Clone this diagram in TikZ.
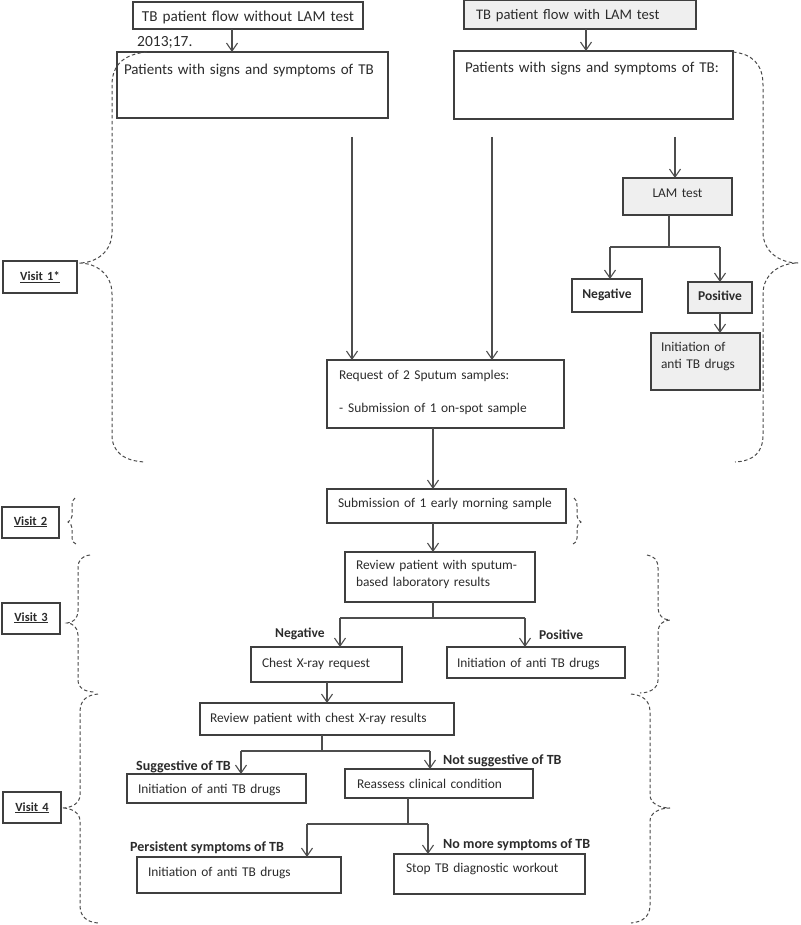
\documentclass[tikz,border=0pt]{standalone}
\usepackage{fontspec}
\setmainfont{Carlito}
\usetikzlibrary{arrows.meta}
\definecolor{lncol}{HTML}{4D4D4D}
\definecolor{bdcol}{HTML}{3F3F3F}
\definecolor{gfcol}{HTML}{EFEFEF}
\definecolor{txcol}{HTML}{2B2B2B}
\definecolor{brcol}{HTML}{4A4A4A}
\newcommand\mybox[9]{%
 \pgfmathsetmacro\mytw{#4-2*#6}%
 \pgfmathsetmacro\mytd{#5-#7}%
 \node[bx,#8,anchor=north west,inner sep=0pt,inner xsep=#6pt,text width=\mytw pt,text height=#7pt,text depth=\mytd pt] (#1) at (#2,#3) {#9};}
\tikzset{
 bx/.style={draw=bdcol, line width=1.1pt, text=txcol, font=\fontsize{13.4}{17}\selectfont, align=left, outer sep=0pt},
 grayfill/.style={fill=gfcol},
 bigtxt/.style={font=\fontsize{15}{18}\selectfont},
 ctr/.style={align=center},
 bldtxt/.style={font=\bfseries\fontsize{13.5}{16}\selectfont},
 vis/.style={font=\bfseries\fontsize{12.5}{15}\selectfont, align=center},
 lab/.style={text=txcol, font=\bfseries\fontsize{13.5}{16}\selectfont, inner sep=0pt, anchor=base west},
 labb/.style={lab, font=\bfseries\fontsize{14}{16}\selectfont},
 cline/.style={draw=lncol, line width=1.1pt},
 arr/.style={cline, -{Straight Barb[length=8pt,width=11pt,line width=1.1pt]}},
 brace/.style={draw=brcol, line width=1pt, dash pattern=on 3.5pt off 2.5pt},
}
\begin{document}
\begin{tikzpicture}[x=1pt,y=-1pt]
\useasboundingbox (0,0) rectangle (800,925);
% top boxes
\mybox{B1}{133}{2}{230}{27}{8}{19.5}{font=\fontsize{15.2}{18}\selectfont,ctr}{\mbox{TB patient flow without LAM test}}
\mybox{B3}{464}{0}{232}{29}{12}{20}{font=\fontsize{14.6}{18}\selectfont,grayfill}{\mbox{TB patient flow with LAM test}}
\node[text=txcol, font=\fontsize{15.5}{18}\selectfont, inner sep=0pt, anchor=base west] (ref) at (137,46.5) {2013;17.};
\mybox{B2}{117}{52}{271}{66}{7}{23}{bigtxt}{\mbox{Patients with signs and symptoms of TB}}
\mybox{B4}{454}{51}{279}{68}{11}{22}{bigtxt}{\mbox{Patients with signs and symptoms of TB:}}
% LAM branch
\mybox{LAM}{623}{178}{109}{37}{4}{19.5}{grayfill,ctr}{LAM test}
\mybox{Neg}{572}{279}{70}{33}{3}{19.5}{ctr,bldtxt}{Negative}
\mybox{Pos}{688}{282}{64}{31}{3}{18.5}{ctr,bldtxt,grayfill}{Positive}
\mybox{ILAM}{651}{333}{109}{57}{10}{18.5}{grayfill}{\mbox{Initiation of}\\\mbox{anti TB drugs}}
% sputum
\mybox{Req}{327}{360}{237}{68}{12}{19.5}{}{\mbox{Request of 2 Sputum samples:}\\[16pt]\mbox{-\hspace{5pt}Submission of 1 on-spot sample}}
\mybox{Sub}{327}{489}{239}{34}{11}{18.5}{}{\mbox{Submission of 1 early morning sample}}
\mybox{RS}{345}{552}{190}{50}{11}{17.5}{}{\mbox{Review patient with sputum-}\\\mbox{based laboratory results}}
\mybox{CX}{251}{647}{151}{35}{11}{20.5}{}{\mbox{Chest X-ray request}}
\mybox{IV3}{447}{647}{178}{31}{10}{20.5}{}{\mbox{Initiation of anti TB drugs}}
\mybox{RC}{200}{703}{254}{32}{10}{19.5}{}{\mbox{Review patient with chest X-ray results}}
\mybox{IV4a}{127}{774}{179}{29}{11}{19.5}{}{\mbox{Initiation of anti TB drugs}}
\mybox{RA}{345}{769}{188}{29}{12}{19.5}{}{\mbox{Reassess clinical condition}}
\mybox{IV4b}{137}{857}{204}{36}{11}{19.5}{}{\mbox{Initiation of anti TB drugs}}
\mybox{Stop}{394}{854}{191}{40}{12}{18.5}{}{\mbox{Stop TB diagnostic workout}}
% visit boxes
\mybox{V1}{3}{261}{74}{32}{3}{19.5}{vis}{\underline{Visit 1*}}
\mybox{V2}{2}{507}{57}{31}{3}{18}{vis}{\underline{Visit 2}}
\mybox{V3}{2}{603}{58}{31}{3}{18}{vis}{\underline{Visit 3}}
\mybox{V4}{3}{792}{58}{31}{3}{19}{vis}{\underline{Visit 4}}
% branch labels
\node[lab] (lneg) at (275,637.5) {Negative};
\node[lab] (lpos) at (539,639.5) {Positive};
\node[labb] (lsug) at (136,770.5) {Suggestive of TB};
\node[labb] (lnsug) at (443,764.5) {Not suggestive of TB};
\node[labb] (lper) at (130,851.5) {Persistent symptoms of TB};
\node[labb] (lnom) at (443,848.5) {No more symptoms of TB};
% connectors
\draw[arr] ([xshift=-16pt]B1.south) -- ([xshift=-16pt]B1.south |- B2.north);
\draw[arr] ([xshift=6pt]B3.south) -- ([xshift=6pt]B3.south |- B4.north);
\coordinate (s1) at (352,137);
\coordinate (s2) at (492,137);
\coordinate (s3) at (675,137);
\draw[arr] (s1) -- (s1 |- Req.north);
\draw[arr] (s2) -- (s2 |- Req.north);
\draw[arr] (s3) -- (s3 |- LAM.north);
\coordinate (j1) at (669,247);
\coordinate (j1l) at (610,247);
\coordinate (j1r) at (720,247);
\draw[cline] (j1 |- LAM.south) -- (j1);
\draw[cline] (j1l) -- (j1r);
\draw[arr] (j1l) -- (j1l |- Neg.north);
\draw[arr] (j1r) -- (j1r |- Pos.north);
\draw[arr] (Pos.south) -- (Pos.south |- ILAM.north);
\coordinate (c1) at (433,0);
\draw[arr] (Req.south -| c1) -- (Sub.north -| c1);
\draw[arr] (Sub.south -| c1) -- (RS.north -| c1);
\coordinate (j2) at (433,618);
\coordinate (j2l) at (340,618);
\coordinate (j2r) at (525,618);
\draw[cline] (RS.south -| j2) -- (j2);
\draw[cline] (j2l) -- (j2r);
\draw[arr] (j2l) -- (j2l |- CX.north);
\draw[arr] (j2r) -- (j2r |- IV3.north);
\coordinate (c2) at (327,0);
\draw[arr] (CX.south -| c2) -- (RC.north -| c2);
\coordinate (j3) at (322,751);
\coordinate (j3l) at (241,751);
\coordinate (j3r) at (430,751);
\draw[cline] (RC.south -| j3) -- (j3);
\draw[cline] (j3l) -- (j3r);
\draw[arr] (j3l) -- (j3l |- IV4a.north);
\draw[arr] (j3r) -- (j3r |- RA.north);
\coordinate (j4) at (408,824);
\coordinate (j4l) at (307,824);
\coordinate (j4r) at (428,824);
\draw[cline] (RA.south -| j4) -- (j4);
\draw[cline] (j4l) -- (j4r);
\draw[arr] (j4l) -- (j4l |- IV4b.north);
\draw[arr] (j4r) -- (j4r |- Stop.north);
% braces
\draw[brace] (147,52) .. controls (125,54) and (112,64) .. (112,85) -- (112,232) .. controls (112,252) and (96,263) .. (79,263) .. controls (96,263) and (112,274) .. (112,294) -- (112,435) .. controls (112,452) and (124,461) .. (145,462);
\draw[brace] (733,52) .. controls (752,54) and (763,64) .. (763,85) -- (763,232) .. controls (763,252) and (780,263) .. (798,263) .. controls (780,263) and (763,274) .. (763,294) -- (763,435) .. controls (763,452) and (754,461) .. (735,462);
\draw[brace] (75,498) .. controls (73,499) and (72,502) .. (72,506) -- (72,516) .. controls (72,519) and (70,521) .. (68,522) .. controls (70,523) and (72,525) .. (72,528) -- (72,538) .. controls (72,541) and (73,543) .. (76,544);
\draw[brace] (574,498) .. controls (576,499) and (577,502) .. (577,506) -- (577,516) .. controls (577,519) and (579,521) .. (581,522) .. controls (579,523) and (577,525) .. (577,528) -- (577,538) .. controls (577,541) and (576,543) .. (573,544);
\draw[brace] (90,555) .. controls (82,556) and (78,560) .. (78,568) -- (78,611) .. controls (78,618) and (73,623) .. (67,623) .. controls (73,623) and (78,628) .. (78,635) -- (78,680) .. controls (78,688) and (85,692) .. (95,692);
\draw[brace] (647,555) .. controls (654,556) and (658,560) .. (658,568) -- (658,608) .. controls (658,615) and (663,620) .. (670,620) .. controls (663,620) and (658,625) .. (658,632) -- (658,680) .. controls (658,688) and (650,693) .. (640,693);
\draw[brace] (98,694) .. controls (87,695) and (80,700) .. (80,712) -- (80,795) .. controls (80,803) and (72,808) .. (62,808) .. controls (72,808) and (80,813) .. (80,821) -- (80,905) .. controls (80,917) and (87,922) .. (98,923);
\draw[brace] (631,694) .. controls (642,695) and (650,700) .. (650,712) -- (650,795) .. controls (650,803) and (659,808) .. (670,808) .. controls (659,808) and (650,813) .. (650,821) -- (650,905) .. controls (650,917) and (642,922) .. (631,923);
\end{tikzpicture}
\end{document}
